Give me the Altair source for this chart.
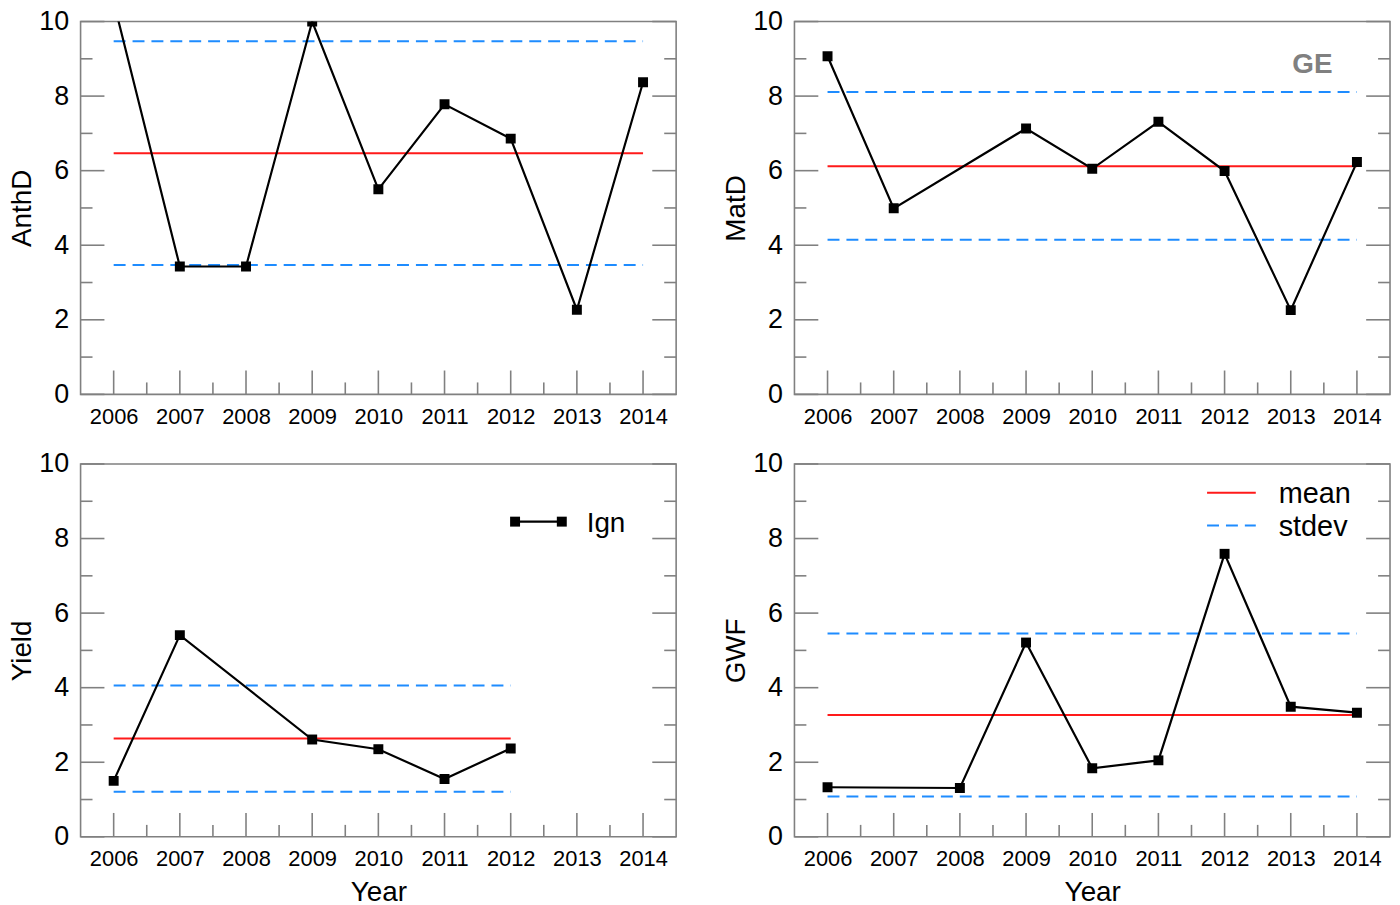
import altair as alt
import pandas as pd

# ---------------- data ----------------
years = [2006, 2007, 2008, 2009, 2010, 2011, 2012, 2013, 2014]

anthd_years = [2006, 2007, 2008, 2009, 2010, 2011, 2012, 2013, 2014]
anthd_vals = [10.53, 3.43, 3.43, 10.0, 5.50, 7.78, 6.86, 2.27, 8.37]

matd_years = [2006, 2007, 2009, 2010, 2011, 2012, 2013, 2014]
matd_vals = [9.07, 4.99, 7.13, 6.05, 7.31, 5.99, 2.26, 6.23]

yield_years = [2006, 2007, 2009, 2010, 2011, 2012]
yield_vals = [1.50, 5.41, 2.61, 2.35, 1.55, 2.37]

gwf_years = [2006, 2008, 2009, 2010, 2011, 2012, 2013, 2014]
gwf_vals = [1.33, 1.31, 5.21, 1.84, 2.05, 7.59, 3.49, 3.33]

panel_names = ["AnthD", "MatD", "Yield", "GWF"]
means = [6.47, 6.12, 2.64, 3.27]
std_upper = [9.47, 8.11, 4.06, 5.45]
std_lower = [3.47, 4.15, 1.21, 1.08]

y_major_ticks = [0, 2, 4, 6, 8, 10]
y_minor_ticks = [1, 3, 5, 7, 9]
x_minor_ticks = [2006.5, 2007.5, 2008.5, 2009.5, 2010.5, 2011.5, 2012.5, 2013.5]

series_label = ["Ign"]
stat_labels = ["mean", "stdev"]
region_label = ["GE"]
x_title = "Year"

# ---------------- styling ----------------
W, H = 599, 375
FONT = "Liberation Sans"
GRAY = "#808080"
RED = "#ff1a1a"
BLUE = "#1e8cff"
DASH = [12, 7]

xsc = alt.Scale(domain=[2005.5, 2014.5], nice=False, zero=False)
ysc = alt.Scale(domain=[0, 10], nice=False, zero=False)

X_AXIS = alt.Axis(values=years, format="d", labelFontSize=22, labelPadding=12,
                  ticks=False, domain=False, grid=False, labelOverlap=False,
                  titleFontSize=28, titlePadding=9)
Y_AXIS = alt.Axis(values=y_major_ticks, labelFontSize=27, labelPadding=12,
                  ticks=False, domain=False, grid=False, labelOverlap=False,
                  titleFontSize=28, titlePadding=2)


def panel(i, xs, vs, show_xtitle):
    name = panel_names[i]
    xt = x_title if show_xtitle else None

    def X(f):
        return alt.X(f, scale=xsc, axis=X_AXIS, title=xt)

    def Y(f):
        return alt.Y(f, scale=ysc, axis=Y_AXIS, title=name)

    layers = []
    # inward ticks (left, right, bottom)
    ymaj = pd.DataFrame({"y": y_major_ticks})
    ymin = pd.DataFrame({"y": y_minor_ticks})
    xmaj = pd.DataFrame({"x": years})
    xmin = pd.DataFrame({"x": x_minor_ticks})
    rule = dict(color=GRAY, strokeWidth=1.6)
    for d, ln in ((ymaj, 24), (ymin, 12)):
        layers.append(alt.Chart(d).mark_rule(**rule).encode(
            y=Y("y:Q"), x=alt.value(0), x2=alt.value(ln)))
        layers.append(alt.Chart(d).mark_rule(**rule).encode(
            y=Y("y:Q"), x=alt.value(W), x2=alt.value(W - ln)))
    for d, ln in ((xmaj, 24), (xmin, 12)):
        layers.append(alt.Chart(d).mark_rule(**rule).encode(
            x=X("x:Q"), y=alt.value(H), y2=alt.value(H - ln)))

    mdf = pd.DataFrame({"x": [xs[0]], "x2": [xs[-1]], "y": [means[i]]})
    layers.append(alt.Chart(mdf).mark_rule(color=RED, strokeWidth=2).encode(
        x=X("x:Q"), x2="x2:Q", y=Y("y:Q")))
    sdf = pd.DataFrame({"x": [xs[0], xs[0]], "x2": [xs[-1], xs[-1]],
                        "y": [std_upper[i], std_lower[i]]})
    layers.append(alt.Chart(sdf).mark_rule(color=BLUE, strokeWidth=2, strokeDash=DASH).encode(
        x=X("x:Q"), x2="x2:Q", y=Y("y:Q")))

    df = pd.DataFrame({"x": xs, "v": vs})
    layers.append(alt.Chart(df).mark_line(color="black", strokeWidth=2.2, clip=True).encode(
        x=X("x:Q"), y=Y("v:Q")))
    layers.append(alt.Chart(df).mark_point(shape="square", filled=True, color="black",
                                           size=100, opacity=1, clip=True).encode(
        x=X("x:Q"), y=Y("v:Q")))
    return layers


# ---------------- panels ----------------
p1 = alt.layer(*panel(0, anthd_years, anthd_vals, False)).properties(width=W, height=H)

ge = alt.Chart(pd.DataFrame({"t": region_label})).mark_text(
    font=FONT, fontSize=28, fontWeight="bold", color=GRAY, align="center",
    baseline="alphabetic").encode(text="t:N", x=alt.value(521), y=alt.value(52))
p2 = alt.layer(*panel(1, matd_years, matd_vals, False), ge).properties(width=W, height=H)

# legend for the series (panel 3)
lab = pd.DataFrame({"t": series_label})
leg_line = alt.Chart(lab).mark_rule(color="black", strokeWidth=2.2).encode(
    x=alt.value(437), x2=alt.value(484), y=alt.value(58))
leg_sq1 = alt.Chart(lab).mark_point(shape="square", filled=True, color="black",
                                    size=100, opacity=1).encode(x=alt.value(437), y=alt.value(58))
leg_sq2 = alt.Chart(lab).mark_point(shape="square", filled=True, color="black",
                                    size=100, opacity=1).encode(x=alt.value(484), y=alt.value(58))
leg_txt = alt.Chart(lab).mark_text(font=FONT, fontSize=28, color="black", align="left",
                                   baseline="alphabetic").encode(
    text="t:N", x=alt.value(509), y=alt.value(68))
p3 = alt.layer(*panel(2, yield_years, yield_vals, True), leg_line, leg_sq1, leg_sq2,
               leg_txt).properties(width=W, height=H)

# legend for mean / stdev (panel 4)
lm = alt.Chart(pd.DataFrame({"t": [stat_labels[0]]})).mark_rule(
    color=RED, strokeWidth=2).encode(x=alt.value(415), x2=alt.value(464), y=alt.value(29))
ls = alt.Chart(pd.DataFrame({"t": [stat_labels[1]]})).mark_rule(
    color=BLUE, strokeWidth=2, strokeDash=DASH).encode(x=alt.value(415), x2=alt.value(464), y=alt.value(62))
tm = alt.Chart(pd.DataFrame({"t": [stat_labels[0]]})).mark_text(
    font=FONT, fontSize=29, color="black", align="left", baseline="alphabetic").encode(
    text="t:N", x=alt.value(487), y=alt.value(39))
ts = alt.Chart(pd.DataFrame({"t": [stat_labels[1]]})).mark_text(
    font=FONT, fontSize=29, color="black", align="left", baseline="alphabetic").encode(
    text="t:N", x=alt.value(487), y=alt.value(72))
p4 = alt.layer(*panel(3, gwf_years, gwf_vals, True), lm, ls, tm, ts).properties(width=W, height=H)

chart = alt.concat(p1, p2, p3, p4, columns=2, spacing={"row": 70, "column": 119},
                   bounds="flush").properties(
    padding={"left": 0, "top": -4, "right": 0, "bottom": 0}
).configure(
    font=FONT,
    background="white",
).configure_view(
    stroke=GRAY, strokeWidth=1.6
).configure_axis(
    labelFont=FONT, titleFont=FONT, labelColor="black", titleColor="black",
    titleFontWeight="normal"
)

chart.save("out.html", embed_options={"renderer": "svg", "actions": False})
